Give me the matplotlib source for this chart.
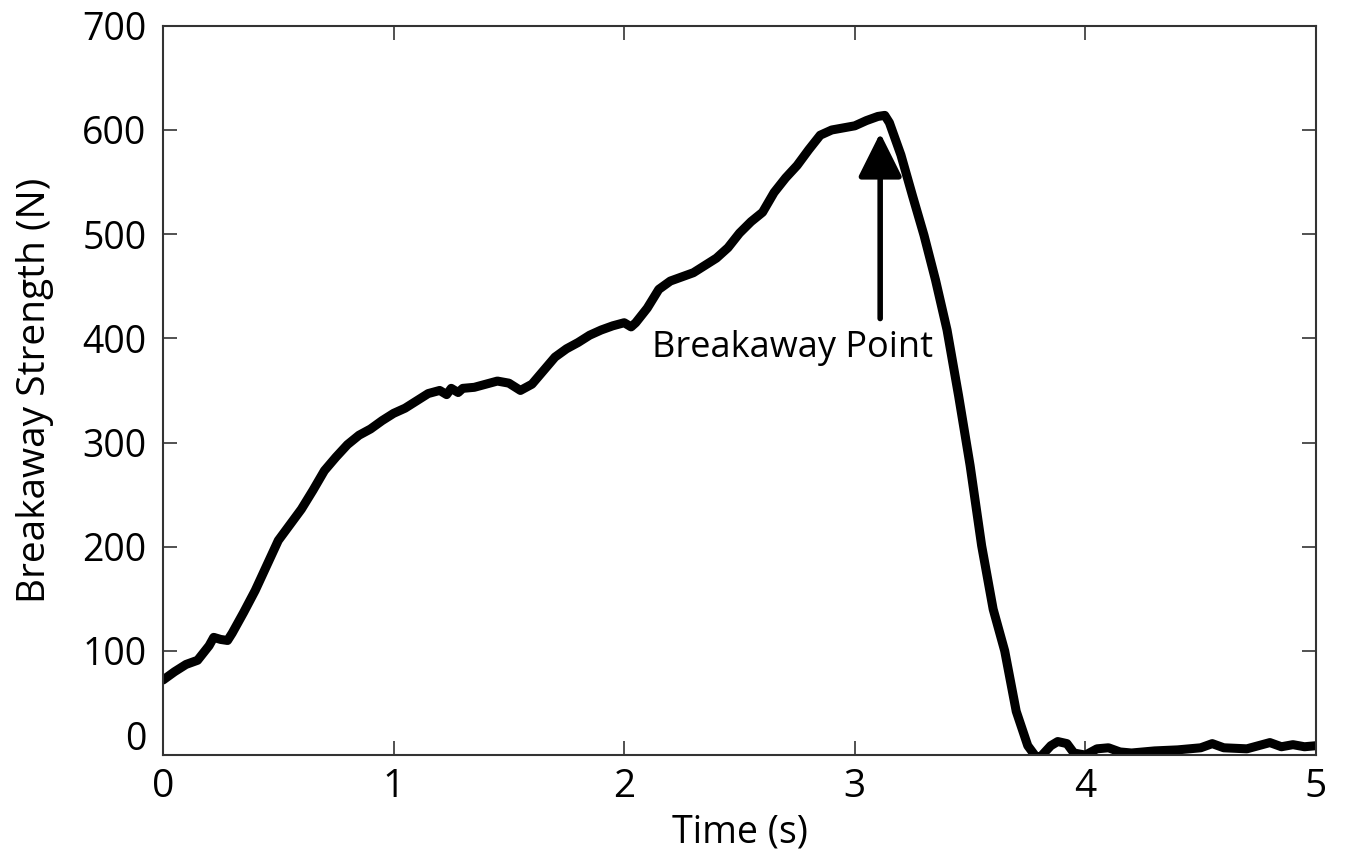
import matplotlib
matplotlib.use('Agg')
import matplotlib.pyplot as plt
import matplotlib.transforms as mtransforms

time_s = [0.00, 0.05, 0.10, 0.15, 0.20, 0.22, 0.25, 0.28, 0.30, 0.35, 0.40, 0.45,
          0.50, 0.55, 0.60, 0.65, 0.70, 0.75, 0.80, 0.85, 0.90, 0.95, 1.00, 1.05,
          1.10, 1.15, 1.20, 1.23, 1.25, 1.28, 1.30, 1.35, 1.40, 1.45, 1.50, 1.55,
          1.60, 1.65, 1.70, 1.75, 1.80, 1.85, 1.90, 1.95, 2.00, 2.03, 2.05, 2.10,
          2.15, 2.20, 2.25, 2.30, 2.35, 2.40, 2.45, 2.50, 2.55, 2.60, 2.65, 2.70,
          2.75, 2.80, 2.85, 2.90, 2.95, 3.00, 3.05, 3.10, 3.13, 3.15, 3.20, 3.25,
          3.30, 3.35, 3.40, 3.45, 3.50, 3.55, 3.60, 3.65, 3.70, 3.75, 3.78, 3.80,
          3.85, 3.88, 3.92, 3.95, 4.00, 4.05, 4.10, 4.15, 4.20, 4.30, 4.40, 4.50,
          4.55, 4.60, 4.70, 4.80, 4.85, 4.90, 4.95, 5.00]
strength_n = [72, 80, 87, 91, 105, 113, 111, 110, 117, 137, 158, 182,
              206, 221, 236, 254, 273, 286, 298, 307, 313, 321, 328, 333,
              340, 347, 350, 346, 352, 348, 352, 353, 356, 359, 357, 350,
              356, 369, 382, 390, 396, 403, 408, 412, 415, 411, 415, 429,
              447, 455, 459, 463, 470, 477, 487, 501, 512, 521, 540, 554,
              566, 581, 595, 600, 602, 604, 609, 613, 614, 607, 576, 537,
              499, 456, 408, 345, 278, 201, 140, 100, 42, 9, 0, -3,
              9, 13, 11, 2, 0, 6, 7, 3, 2, 4, 5, 7,
              11, 7, 6, 12, 8, 10, 8, 9]

x_ticks = [0, 1, 2, 3, 4, 5]
y_ticks = [0, 100, 200, 300, 400, 500, 600, 700]

plt.rcParams['font.family'] = ['Open Sans', 'DejaVu Sans']

fig = plt.figure(figsize=(13.47, 8.6), dpi=100)
ax = fig.add_axes([0.121, 0.122, 0.856, 0.848])

ax.plot(time_s, strength_n, color='black', lw=6.5, solid_joinstyle='round',
        solid_capstyle='round')

ax.set_xlim(0, 5)
ax.set_ylim(0, 700)
ax.set_xticks(x_ticks)
ax.set_yticks(y_ticks)
ax.tick_params(direction='in', length=10, width=1.2, color='#333333',
               top=True, right=True, labelsize=27)
ax.tick_params(axis='x', labelsize=28, pad=9)
ax.tick_params(axis='y', pad=12)
for s in ax.spines.values():
    s.set_linewidth(1.5)
    s.set_color('#333333')

# lift the "0" label like the original
lab0 = ax.get_yticklabels()[0]
lab0.set_transform(lab0.get_transform() +
                   mtransforms.ScaledTranslation(0, 0.2, fig.dpi_scale_trans))

ax.set_xlabel('Time (s)', fontsize=27, labelpad=6)
ax.set_ylabel('Breakaway Strength (N)', fontsize=28, labelpad=20)

ax.annotate('', xy=(3.11, 597), xytext=(3.11, 419),
            arrowprops=dict(arrowstyle='-|>,head_length=0.9,head_width=0.45',
                            color='black', lw=4, mutation_scale=30,
                            shrinkA=0, shrinkB=0))
ax.text(2.73, 391, 'Breakaway Point', fontsize=26, ha='center', va='center')

fig.savefig('out.png', dpi=100)
